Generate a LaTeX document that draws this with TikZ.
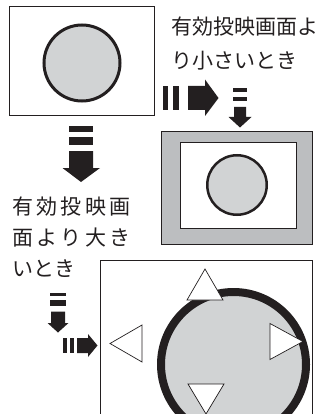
\documentclass[tikz,border=0pt]{standalone}
\usepackage{fontspec}
\setmainfont{Noto Sans CJK JP}
\definecolor{ink}{HTML}{231F20}
\definecolor{lgray}{HTML}{D1D3D4}
\definecolor{mgray}{HTML}{BCBEC0}
\newcommand{\cj}[1]{\makebox[24.3pt][l]{#1}}
\begin{document}
\begin{tikzpicture}[x=1pt,y=-1pt,
  frame/.style={draw=ink,line width=0.8pt},
  tri/.style={draw=ink,fill=white,line width=0.7pt,line join=miter},
  arr/.style={fill=ink,draw=none},
  lbl/.style={inner sep=0pt,anchor=west,font=\fontsize{21}{24}\selectfont,text=ink}]
\useasboundingbox (0,0) rectangle (331,414);
\begin{scope}
\clip (0,0) rectangle (331,414);
% top-left picture
\node[frame,minimum width=145pt,minimum height=109pt,inner sep=0pt,anchor=north west] (tl) at (9,6) {};
\node[circle,draw=ink,fill=lgray,line width=3pt,minimum size=76pt,inner sep=0pt] (c1) at (82,63) {};
% gray framed picture
\node[frame,fill=mgray,minimum width=151pt,minimum height=113pt,inner sep=0pt,anchor=north west] (gr) at (161,131) {};
\node[frame,fill=white,minimum width=116pt,minimum height=86pt,inner sep=0pt,anchor=north west] (gi) at (180,142) {};
\node[circle,draw=ink,fill=lgray,line width=2.5pt,minimum size=59.5pt,inner sep=0pt] (c2) at (237,185) {};
% bottom big picture
\node[frame,fill=white,minimum width=212pt,minimum height=170pt,inner sep=0pt,anchor=north west] (bg) at (100,260) {};
\node[circle,draw=ink,fill=lgray,line width=8pt,minimum size=145pt,inner sep=0pt] (c3) at (233.5,364.5) {};
\draw[tri] (205,269) -- (223,300) -- (187,300) -- cycle;
\draw[tri] (110,343.5) -- (142,325) -- (142,362) -- cycle;
\draw[tri] (303,341.5) -- (270,323.5) -- (270,359.5) -- cycle;
\draw[tri] (206,414) -- (188,384) -- (224,384) -- cycle;
\end{scope}
% arrows
\fill[arr] (163,86) rectangle (168.3,110);
\fill[arr] (173,86) rectangle (179,110);
\fill[arr] (188,86) -- (205,86) -- (205,79.5) -- (218.5,98) -- (205,116) -- (205,110) -- (188,110) -- cycle;
\fill[arr] (233,88) rectangle (247,92);
\fill[arr] (233,97) rectangle (247,101.5);
\fill[arr] (234,107) -- (246,107) -- (246,117) -- (251.5,117) -- (240,127.5) -- (228.5,117) -- (234,117) -- cycle;
\fill[arr] (69,126.5) rectangle (93,132);
\fill[arr] (69,137.5) rectangle (93,144.5);
\fill[arr] (69,151) -- (93,151) -- (93,168) -- (100,168) -- (81,182) -- (62.5,168) -- (69,168) -- cycle;
\fill[arr] (50,292.5) rectangle (66,295.8);
\fill[arr] (50,300) rectangle (66,305.7);
\fill[arr] (51,311.5) -- (65,311.5) -- (65,323) -- (68.5,323) -- (58,332.5) -- (47.5,323) -- (51,323) -- cycle;
\fill[arr] (63,338) rectangle (67,353);
\fill[arr] (69.5,338) rectangle (73.5,353);
\fill[arr] (77,338) -- (88,338) -- (88,334) -- (97.5,345.5) -- (88,357) -- (88,353) -- (77,353) -- cycle;
% labels
\node[lbl] (t1) at (171.5,27) {有効投映画面よ};
\node[lbl] (t2) at (171.5,60.5) {り小さいとき};
\node[lbl] (t3) at (12,207) {\cj{有}\cj{効}\cj{投}\cj{映}\cj{画}};
\node[lbl] (t4) at (12,238) {\cj{面}\cj{よ}\cj{り}\cj{大}\cj{き}};
\node[lbl] (t5) at (12,269) {いとき};
\end{tikzpicture}
\end{document}
